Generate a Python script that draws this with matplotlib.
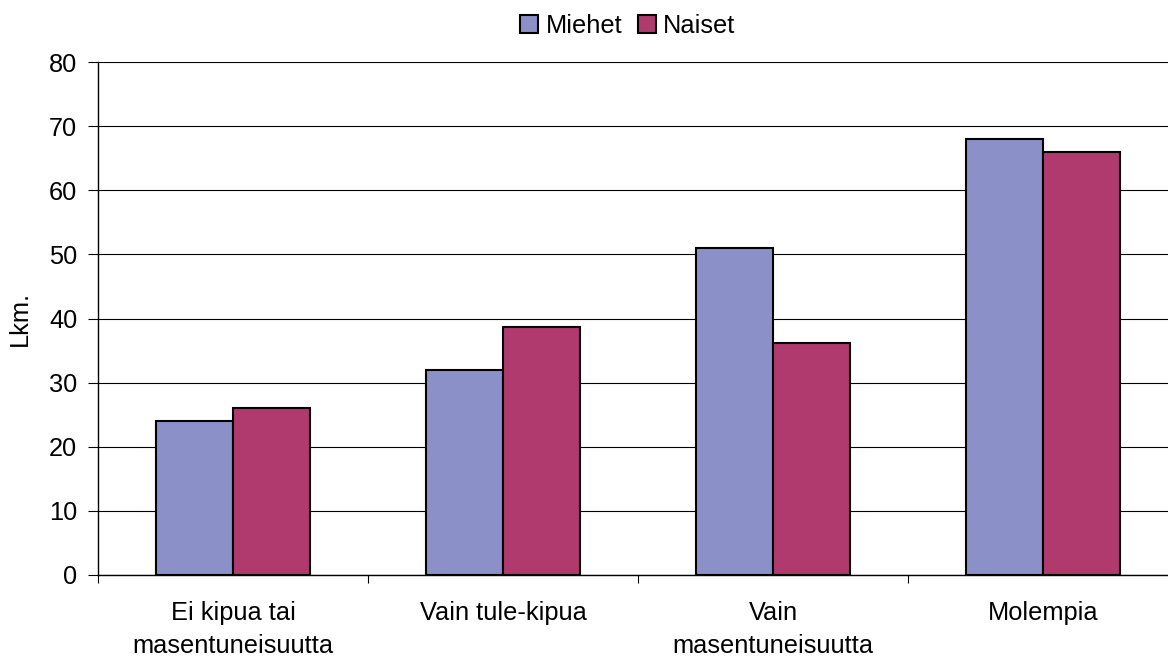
import matplotlib
matplotlib.use("Agg")
import matplotlib.pyplot as plt
import numpy as np

categories = ["Ei kipua tai\nmasentuneisuutta", "Vain tule-kipua", "Vain\nmasentuneisuutta", "Molempia"]
miehet = [24, 32, 51, 68]
naiset = [26, 38.7, 36.2, 66]
series_names = ["Miehet", "Naiset"]
yticks = [0, 10, 20, 30, 40, 50, 60, 70, 80]

plt.rcParams['font.family'] = ['Liberation Sans', 'DejaVu Sans']
fs = 18.3

fig = plt.figure(figsize=(11.68, 6.58), dpi=100)
left, right = 98, 1178
ax = fig.add_axes([left/1168, 1 - 575/658, (right-left)/1168, (575-62)/658])

x = np.arange(len(categories))
w = 0.285
ax.bar(x - w/2, miehet, w, color="#8C90C8", edgecolor="black", linewidth=1.5, label=series_names[0], zorder=3)
ax.bar(x + w/2, naiset, w, color="#B03A6E", edgecolor="black", linewidth=1.5, label=series_names[1], zorder=3)

ax.set_xlim(-0.5, len(categories) - 0.5)
ax.set_ylim(0, 80)
ax.set_yticks(yticks)
ax.set_yticklabels([str(t) for t in yticks], fontsize=fs)
ax.yaxis.grid(True, color="black", linewidth=0.8, zorder=0)
ax.set_axisbelow(True)

ax.set_xticks(np.arange(-0.5, len(categories), 1.0))
ax.set_xticklabels([])
ax.set_xticks(x, minor=True)
ax.set_xticklabels(categories, minor=True, fontsize=fs, linespacing=1.5)
ax.tick_params(axis='x', which='minor', length=0, pad=18.5)
ax.tick_params(axis='x', which='major', length=6, direction='out')
ax.tick_params(axis='y', length=7, direction='out', pad=8)

for s in ['top', 'right']:
    ax.spines[s].set_visible(False)
ax.spines['left'].set_linewidth(1.0)
ax.spines['bottom'].set_linewidth(1.0)

ax.set_ylabel("Lkm.", fontsize=fs, labelpad=12)

fig.legend(*ax.get_legend_handles_labels(), loc='center', bbox_to_anchor=(628/1168, 1 - 26/658), ncol=2, frameon=False,
           fontsize=fs, handlelength=0.7, handleheight=0.7, handletextpad=0.3,
           columnspacing=0.6)

fig.savefig("out.png", dpi=100)
